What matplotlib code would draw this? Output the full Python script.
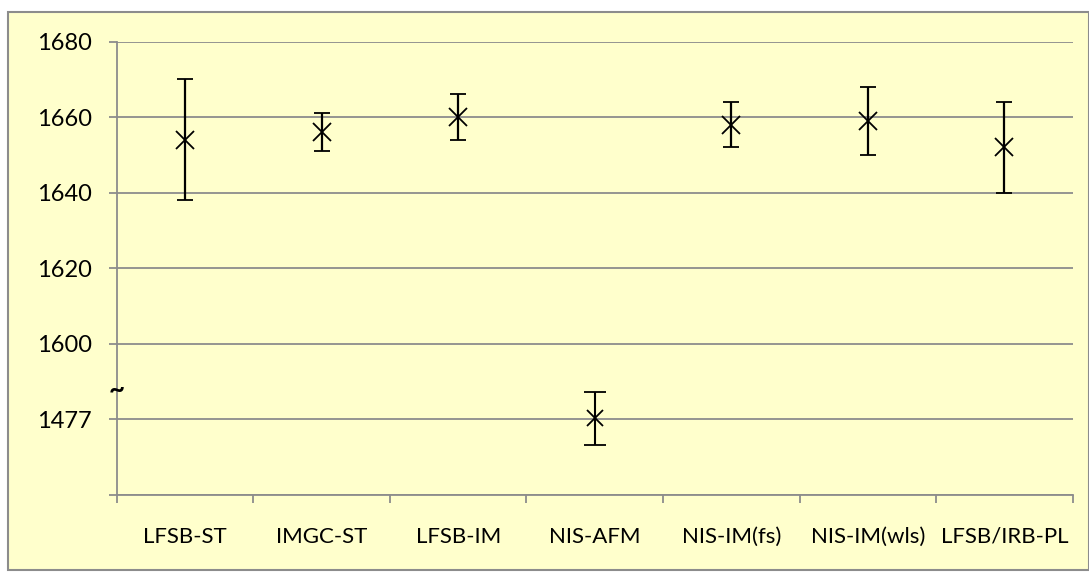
import matplotlib.pyplot as plt
from matplotlib.patches import Rectangle
from matplotlib.ticker import FixedLocator

plt.rcParams['font.family'] = ['Lato', 'DejaVu Sans']

# data
labels = ['LFSB-ST', 'IMGC-ST', 'LFSB-IM', 'NIS-AFM', 'NIS-IM(fs)', 'NIS-IM(wls)', 'LFSB/IRB-PL']
values = [1654, 1656, 1660, 1477.3, 1658, 1659, 1652]
errors = [16, 5, 6, 7, 6, 9, 12]
low_group = ['NIS-AFM']          # drawn below the axis break

# broken y axis: real 1477 is shown at the 1580 gridline
break_real = 1477
break_shown = 1580
ytick_pos = [1560, 1580, 1600, 1620, 1640, 1660, 1680]
ytick_lab = ['', '1477', '1600', '1620', '1640', '1660', '1680']

bg = '#FFFFCC'
grid_col = '#8C8C8C'

fig = plt.figure(figsize=(10.89, 5.73), dpi=100)
fig.patch.set_facecolor('white')
# chart area border
border = Rectangle((8 / 1089, 1 - 570 / 573), 1 - 8 / 1089, (570 - 12) / 573,
                   transform=fig.transFigure, facecolor=bg, edgecolor='#8C8C8C',
                   linewidth=1.5, zorder=-5)
fig.add_artist(border)

ax = fig.add_axes([116.7 / 1089, 1 - 495 / 573, (1072.7 - 116.7) / 1089, (495 - 41.5) / 573])
ax.set_facecolor(bg)

xs = [i + 0.5 for i in range(len(labels))]
for x, lab, v, e in zip(xs, labels, values, errors):
    if lab in low_group:
        shown = v - break_real + break_shown
        ax.errorbar(x, shown, yerr=e, fmt='x', color='black', ms=11, mew=1.3,
                    elinewidth=1.5, capsize=8, capthick=3.0, zorder=3)
    else:
        ax.errorbar(x, v, yerr=e, fmt='x', color='black', ms=12.5, mew=1.3,
                    elinewidth=1.6, capsize=5.5, capthick=3.6, zorder=3)

ax.set_xlim(0, len(labels))
ax.set_ylim(1560, 1680)

ax.set_yticks(ytick_pos)
ax.set_yticklabels(ytick_lab)
ax.yaxis.grid(True, color=grid_col, linewidth=1.3)
ax.set_axisbelow(True)

ax.set_xticks(xs)
ax.set_xticklabels(labels)
ax.xaxis.set_minor_locator(FixedLocator(range(len(labels) + 1)))
ax.tick_params(axis='x', which='major', length=0, pad=23, labelsize=16)
ax.tick_params(axis='x', which='minor', length=6, width=1.3, color=grid_col, direction='out')
ax.tick_params(axis='y', length=6, width=1.3, color=grid_col, pad=12, labelsize=17)

for side in ['top', 'right']:
    ax.spines[side].set_visible(False)
for side in ['left', 'bottom']:
    ax.spines[side].set_color(grid_col)
    ax.spines[side].set_linewidth(1.3)

# break mark on the y axis
ax.text(0.0, 1587.8, '~', fontsize=20, fontweight='bold', ha='center', va='center',
        transform=ax.get_yaxis_transform(), clip_on=False)

fig.savefig('out.png', dpi=100)
